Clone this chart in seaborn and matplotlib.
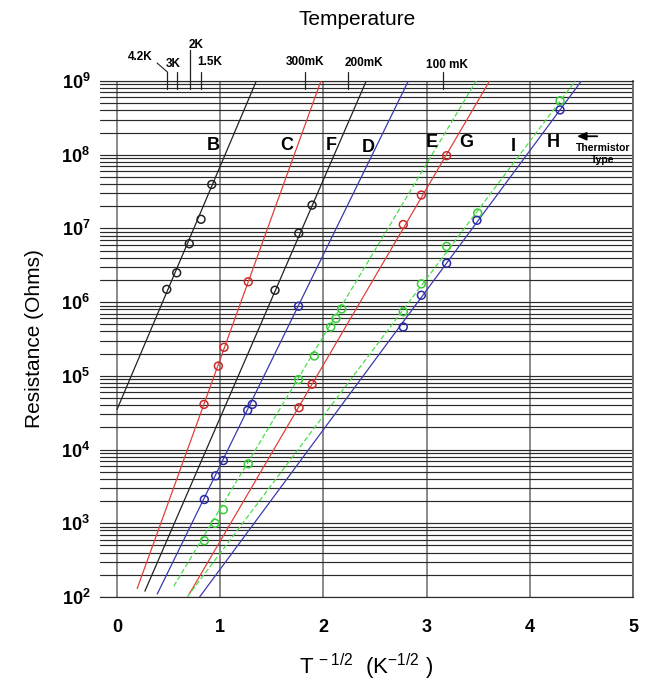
import numpy as np
import pandas as pd
import matplotlib
matplotlib.use("Agg")
import matplotlib.pyplot as plt
import matplotlib.transforms as mtransforms
from matplotlib.ticker import LogLocator, MultipleLocator, NullFormatter, FixedLocator
import seaborn as sns

# ---------------------------------------------------------------------------
# Thermistor calibration data: x = T^-1/2 (K^-1/2), R in ohms
# ---------------------------------------------------------------------------
types = ["B", "C", "F", "D", "E", "G", "I", "H"]

B_x = [0.482, 0.578, 0.700, 0.814, 0.918]
B_R = [1.49e6, 2.5e6, 6.2e6, 1.33e7, 3.95e7]

C_x = [0.843, 0.982, 1.037, 1.272]
C_R = [4.1e4, 1.36e5, 2.44e5, 1.89e6]

F_x = [1.531, 1.761, 1.890]
F_R = [1.45e6, 8.6e6, 2.07e7]

D_x = [0.846, 0.956, 1.030, 1.266, 1.311, 1.759]
D_R = [2.1e3, 4.4e3, 7.1e3, 3.4e4, 4.1e4, 8.8e5]

E_x = [0.846, 0.950, 1.030, 1.272, 1.759, 1.912, 2.071, 2.122, 2.177]
E_R = [5.8e2, 1.0e3, 1.53e3, 6.4e3, 8.9e4, 1.86e5, 4.6e5, 6.0e5, 8.1e5]

G_x = [1.764, 1.890, 2.774, 2.949, 3.194]
G_R = [3.7e4, 7.7e4, 1.13e7, 2.84e7, 9.7e7]

I_x = [2.774, 2.949, 3.194, 3.495, 4.293]
I_R = [7.4e5, 1.77e6, 5.7e6, 1.62e7, 5.4e8]

H_x = [2.774, 2.949, 3.194, 3.488, 4.293]
H_R = [4.6e5, 1.24e6, 3.37e6, 1.29e7, 4.05e8]

# Fitted calibration curves (end points of each straight fit)
B_fit_x = [0.0, 1.35]
B_fit_R = [3.5e4, 1e9]
C_fit_x = [0.195, 1.976]
C_fit_R = [1.3e2, 1e9]
F_fit_x = [0.27, 2.415]
F_fit_R = [1.2e2, 1e9]
D_fit_x = [0.39, 2.823]
D_fit_R = [1.1e2, 1e9]
E_fit_x = [0.55, 3.48]
E_fit_R = [1.4e2, 1e9]
G_fit_x = [0.70, 3.61]
G_fit_R = [1.1e2, 1e9]
I_fit_x = [0.68, 4.44]
I_fit_R = [1.0e2, 1e9]
H_fit_x = [0.80, 4.50]
H_fit_R = [1.0e2, 1e9]

# Temperature scale along the top (T in kelvin)
temp_K = [4.2, 3.0, 2.0, 1.5, 0.3, 0.2, 0.1]
temp_labels = ["4.2K", "3K", "2K", "1.5K", "300mK", "200mK", "100 mK"]

x_ticks = [0, 1, 2, 3, 4, 5]

# ---------------------------------------------------------------------------
points = {
    "B": (B_x, B_R), "C": (C_x, C_R), "F": (F_x, F_R), "D": (D_x, D_R),
    "E": (E_x, E_R), "G": (G_x, G_R), "I": (I_x, I_R), "H": (H_x, H_R),
}
fits = {
    "B": (B_fit_x, B_fit_R), "C": (C_fit_x, C_fit_R), "F": (F_fit_x, F_fit_R),
    "D": (D_fit_x, D_fit_R), "E": (E_fit_x, E_fit_R), "G": (G_fit_x, G_fit_R),
    "I": (I_fit_x, I_fit_R), "H": (H_fit_x, H_fit_R),
}

line_color = {"B": "#222222", "F": "#222222", "C": "#e2403a", "G": "#e2403a",
              "D": "#3a3aae", "H": "#3a3aae", "E": "#4ade4a", "I": "#4ade4a"}
mark_color = {"B": "#222222", "F": "#222222", "C": "#cc2a2a", "G": "#cc2a2a",
              "D": "#2a2aa8", "H": "#2a2aa8", "E": "#3acc3a", "I": "#3acc3a"}
dashed = {"E", "I"}

sns.set_theme(style="white")
plt.rcParams["font.family"] = ["Liberation Sans", "DejaVu Sans"]
plt.rcParams["mathtext.default"] = "regular"
plt.rcParams["text.color"] = "black"
plt.rcParams["axes.labelcolor"] = "black"

fig = plt.figure(figsize=(6.47, 7.0), dpi=100)
ax = fig.add_axes([100 / 647, 103 / 700, 533 / 647, 516 / 700])
ax.set_yscale("log")

# fitted curves
for t in types:
    fx, fr = fits[t]
    df = pd.DataFrame({"x": fx, "R": fr})
    sns.lineplot(data=df, x="x", y="R", ax=ax, color=line_color[t],
                 linewidth=0.9, sort=False, estimator=None,
                 linestyle=(0, (4, 2)) if t in dashed else "-", zorder=3)

# calibration points
for t in types:
    px, pr = points[t]
    df = pd.DataFrame({"x": px, "R": pr})
    sns.scatterplot(data=df, x="x", y="R", ax=ax, marker="o", s=32,
                    facecolor="none", edgecolor=mark_color[t],
                    linewidth=1.1, zorder=4)

ax.set_xlim(-0.165, 5.0)
ax.set_ylim(1e2, 1e9)

# grid
ax.yaxis.set_major_locator(LogLocator(base=10, numticks=12))
ax.yaxis.set_minor_locator(LogLocator(base=10, subs=np.arange(2, 10), numticks=12))
ax.yaxis.set_minor_formatter(NullFormatter())
ax.xaxis.set_major_locator(FixedLocator(x_ticks))
ax.xaxis.set_minor_locator(MultipleLocator(0.5))
ax.grid(which="both", axis="y", color="#2a2a2a", linewidth=0.85, zorder=1)
ax.grid(which="major", axis="x", color="#808080", linewidth=1.3, zorder=1)
ax.set_axisbelow(True)

ax.spines["left"].set_visible(False)
for side in ["top", "bottom"]:
    ax.spines[side].set_color("#2a2a2a")
    ax.spines[side].set_linewidth(0.85)
ax.spines["right"].set_color("#666666")
ax.spines["right"].set_linewidth(1.3)

ax.tick_params(axis="x", which="major", direction="out", length=10.5,
               width=1.3, color="#808080", labelcolor="black", pad=5,
               labelsize=13)
ax.tick_params(axis="x", which="minor", direction="out", length=7,
               width=1.1, color="#808080")
ax.tick_params(axis="y", which="both", length=0, pad=7, labelsize=13,
               labelcolor="black")
for lab in ax.get_xticklabels() + ax.get_yticklabels():
    lab.set_fontweight("bold")

ax.set_xlabel(r"T$^{\,-1/2}$  (K$^{-1/2}$ )", fontsize=16, labelpad=12)
ax.set_ylabel("Resistance (Ohms)", fontsize=15, labelpad=12)

# thermistor type labels
label_x = [0.93, 1.64, 2.08, 2.43, 3.05, 3.38, 3.84, 4.23]
label_R = [1.32e8, 1.32e8, 1.32e8, 1.24e8, 1.45e8, 1.45e8, 1.28e8, 1.45e8]
for t, lx, ly in zip(types, label_x, label_R):
    ax.text(lx, ly, t, fontsize=13, fontweight="bold", ha="center",
            va="center", zorder=5)
ax.annotate("", xy=(4.43, 1.78e8), xytext=(4.68, 1.78e8),
            arrowprops=dict(arrowstyle="-|>,head_length=0.45,head_width=0.2",
                            color="black", linewidth=1.3))
ax.text(4.71, 1.02e8, "Thermistor\nType", fontsize=7.5, fontweight="bold",
        ha="center", va="center", linespacing=1.3)

# temperature scale on top
trans = mtransforms.blended_transform_factory(ax.transData, ax.transAxes)
tick_top = [1.0174, 1.0174, 1.060, 1.0174, 1.0174, 1.0174, 1.0174]
lab_x = [0.223, 0.543, 0.766, 0.901, 1.822, 2.393, 3.198]
lab_y = [1.0465, 1.033, 1.070, 1.0368, 1.0368, 1.035, 1.031]
for T, top, lx, ly, txt in zip(temp_K, tick_top, lab_x, lab_y, temp_labels):
    xt = 1.0 / np.sqrt(T)
    ax.plot([xt, xt], [0.9845, top], transform=trans, color="#222222",
            linewidth=0.9, clip_on=False, zorder=5)
    ax.text(lx, ly, txt, transform=trans, fontsize=8.5, fontweight="bold",
            ha="center", va="center")
# leader from the 4.2K label to its tick
ax.plot([0.388, 1.0 / np.sqrt(4.2)], [1.0349, 1.0174], transform=trans,
        color="#222222", linewidth=0.8, clip_on=False)
ax.text(2.326, 1.120, "Temperature", transform=trans, fontsize=15,
        ha="center", va="center")

fig.savefig("out.png", dpi=100)
